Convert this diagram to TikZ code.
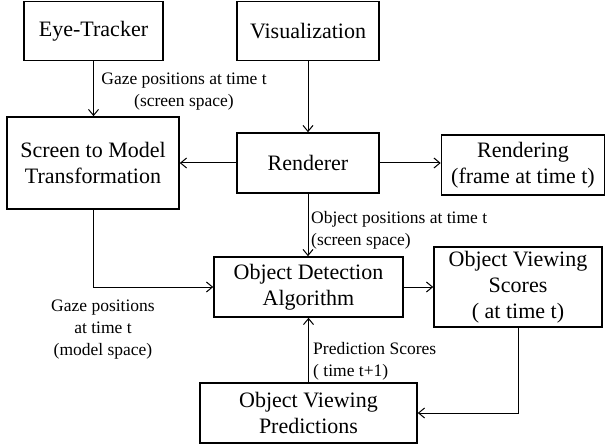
\documentclass[tikz,border=0pt]{standalone}
\usepackage{fontspec}
\setmainfont{Liberation Serif}
\usetikzlibrary{arrows.meta}
\begin{document}
\begin{tikzpicture}[x=1pt,y=-1pt,
 box/.style={draw, line width=1.6pt, align=center, font=\fontsize{22}{26}\selectfont, inner sep=0pt},
 lbl/.style={font=\fontsize{17.5}{22}\selectfont, inner sep=0pt},
 conn/.style={line width=1pt, -{Straight Barb[length=6pt,width=10pt]}}]
\useasboundingbox (0,0) rectangle (607,446);
\node[box, minimum width=139, minimum height=59] (eye) at (93.5,31) {Eye-Tracker};
\node[box, minimum width=142, minimum height=59] (vis) at (308,31) {Visualization};
\node[box, minimum width=172, minimum height=92] (stm) at (93,163) {Screen to Model\\Transformation};
\node[box, minimum width=142, minimum height=60] (ren) at (308,163) {Renderer};
\node[box, minimum width=163, minimum height=60] (rend) at (523,165) {Rendering\\(frame at time t)};
\node[box, minimum width=189, minimum height=60] (od) at (308.5,287) {Object Detection\\Algorithm};
\node[box, minimum width=168, minimum height=80] (ovs) at (518,287) {Object Viewing\\Scores\\( at time t)};
\node[box, minimum width=217, minimum height=60] (ovp) at (308.5,413) {Object Viewing\\Predictions};

\draw[conn] (eye.south) -- (eye.south |- stm.north);
\draw[conn] (vis.south) -- (ren.north);
\draw[conn] (ren.west) -- (stm.east);
\draw[conn] (ren.east) -- (ren.east -| rend.west);
\draw[conn] (ren.south) -- (ren.south |- od.north);
\draw[conn] (stm.south) |- (od.west);
\draw[conn] (od.east) -- (od.east -| ovs.west);
\draw[conn] (ovs.south) |- (ovp.east);
\draw[conn] (ovp.north) -- (od.south);

\node[lbl, align=center] (l1) at (184,92) {Gaze positions at time t\\(screen space)};
\node[lbl, align=left, anchor=west] (l2) at (311,230) {Object positions at time t\\(screen space)};
\node[lbl, align=center] (l3) at (103,330) {Gaze positions\\at time t\\(model space)};
\node[lbl, align=left, anchor=west] (l4) at (313,361) {Prediction Scores\\( time t+1)};
\end{tikzpicture}
\end{document}
